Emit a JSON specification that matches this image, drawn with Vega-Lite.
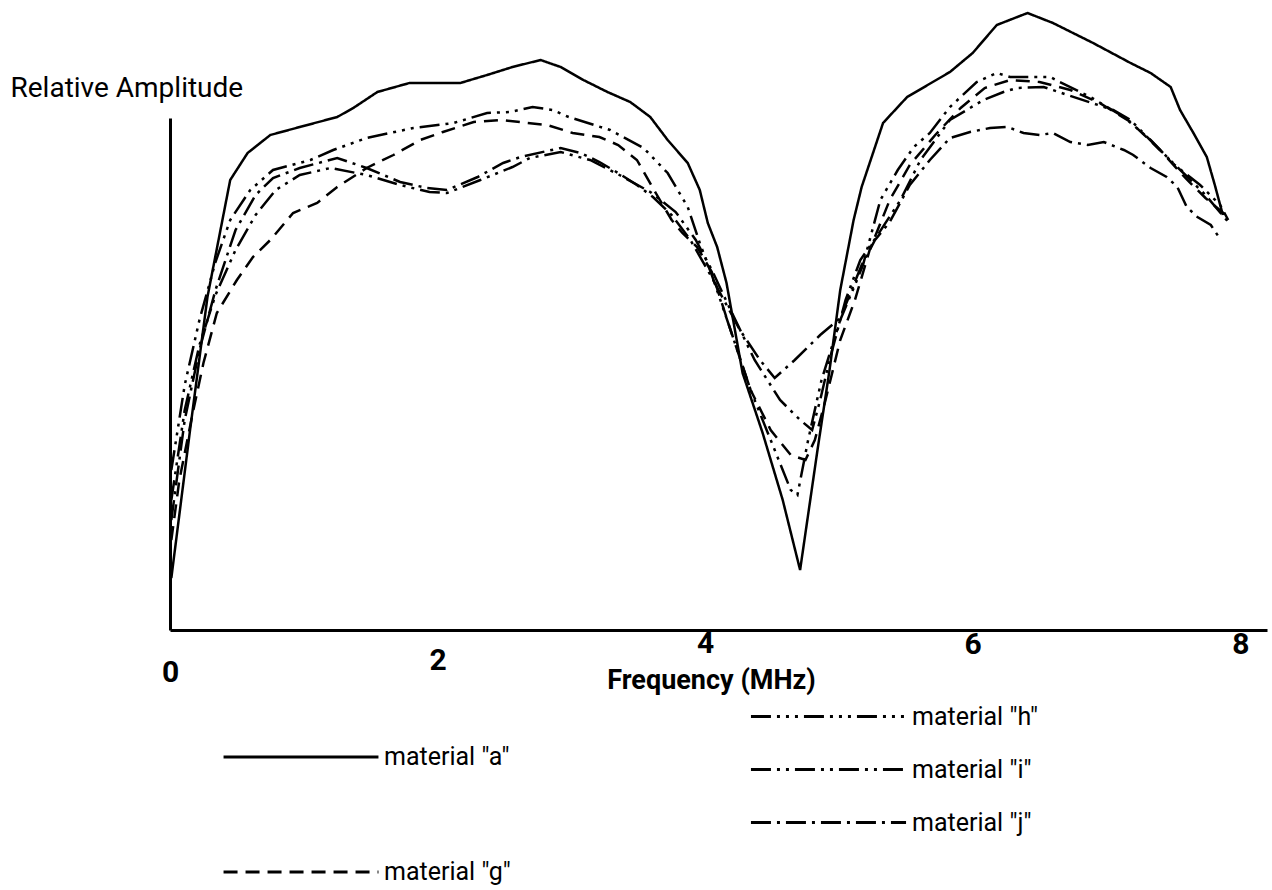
{
 "$schema": "https://vega.github.io/schema/vega-lite/v6.json",
 "width": 1097, "height": 512,
 "autosize": {"type": "none"},
 "padding": {"left": 170, "top": 118, "right": 5, "bottom": 260},
 "background": "white",
 "config": {"view": {"stroke": null}},
 "data": {"values": [
  {"material":"material \"a\"","f":0.01,"amp":52},{"material":"material \"a\"","f":0.15,"amp":200},{"material":"material \"a\"","f":0.28,"amp":333},{"material":"material \"a\"","f":0.45,"amp":450},{"material":"material \"a\"","f":0.58,"amp":477},{"material":"material \"a\"","f":0.75,"amp":495},{"material":"material \"a\"","f":0.97,"amp":503},{"material":"material \"a\"","f":1.25,"amp":513},{"material":"material \"a\"","f":1.37,"amp":522},{"material":"material \"a\"","f":1.55,"amp":538},{"material":"material \"a\"","f":1.79,"amp":547},{"material":"material \"a\"","f":2.17,"amp":547},{"material":"material \"a\"","f":2.37,"amp":555},{"material":"material \"a\"","f":2.56,"amp":563},{"material":"material \"a\"","f":2.77,"amp":570},{"material":"material \"a\"","f":2.92,"amp":563},{"material":"material \"a\"","f":3.09,"amp":550},{"material":"material \"a\"","f":3.27,"amp":538},{"material":"material \"a\"","f":3.44,"amp":528},{"material":"material \"a\"","f":3.59,"amp":513},{"material":"material \"a\"","f":3.72,"amp":490},{"material":"material \"a\"","f":3.87,"amp":467},{"material":"material \"a\"","f":3.96,"amp":440},{"material":"material \"a\"","f":4.02,"amp":407},{"material":"material \"a\"","f":4.09,"amp":383},{"material":"material \"a\"","f":4.16,"amp":347},{"material":"material \"a\"","f":4.28,"amp":257},{"material":"material \"a\"","f":4.43,"amp":197},{"material":"material \"a\"","f":4.58,"amp":130},{"material":"material \"a\"","f":4.71,"amp":60},{"material":"material \"a\"","f":4.84,"amp":180},{"material":"material \"a\"","f":4.93,"amp":260},{"material":"material \"a\"","f":5.01,"amp":340},{"material":"material \"a\"","f":5.11,"amp":410},{"material":"material \"a\"","f":5.17,"amp":443},{"material":"material \"a\"","f":5.33,"amp":507},{"material":"material \"a\"","f":5.51,"amp":533},{"material":"material \"a\"","f":5.83,"amp":558},{"material":"material \"a\"","f":6.0,"amp":577},{"material":"material \"a\"","f":6.18,"amp":605},{"material":"material \"a\"","f":6.41,"amp":617},{"material":"material \"a\"","f":6.6,"amp":607},{"material":"material \"a\"","f":6.9,"amp":587},{"material":"material \"a\"","f":7.18,"amp":567},{"material":"material \"a\"","f":7.33,"amp":557},{"material":"material \"a\"","f":7.48,"amp":543},{"material":"material \"a\"","f":7.55,"amp":520},{"material":"material \"a\"","f":7.65,"amp":497},{"material":"material \"a\"","f":7.75,"amp":473},{"material":"material \"a\"","f":7.81,"amp":445},{"material":"material \"a\"","f":7.87,"amp":415},

  {"material":"material \"g\"","f":0.01,"amp":90},{"material":"material \"g\"","f":0.07,"amp":150},{"material":"material \"g\"","f":0.17,"amp":217},{"material":"material \"g\"","f":0.25,"amp":267},{"material":"material \"g\"","f":0.35,"amp":317},{"material":"material \"g\"","f":0.5,"amp":350},{"material":"material \"g\"","f":0.62,"amp":373},{"material":"material \"g\"","f":0.75,"amp":390},{"material":"material \"g\"","f":0.92,"amp":417},{"material":"material \"g\"","f":1.1,"amp":427},{"material":"material \"g\"","f":1.25,"amp":443},{"material":"material \"g\"","f":1.47,"amp":462},{"material":"material \"g\"","f":1.67,"amp":475},{"material":"material \"g\"","f":1.87,"amp":490},{"material":"material \"g\"","f":2.04,"amp":498},{"material":"material \"g\"","f":2.27,"amp":508},{"material":"material \"g\"","f":2.47,"amp":510},{"material":"material \"g\"","f":2.82,"amp":505},{"material":"material \"g\"","f":3.01,"amp":497},{"material":"material \"g\"","f":3.21,"amp":493},{"material":"material \"g\"","f":3.35,"amp":485},{"material":"material \"g\"","f":3.49,"amp":470},{"material":"material \"g\"","f":3.64,"amp":435},{"material":"material \"g\"","f":3.75,"amp":410},{"material":"material \"g\"","f":3.83,"amp":397},{"material":"material \"g\"","f":3.94,"amp":383},{"material":"material \"g\"","f":4.05,"amp":358},{"material":"material \"g\"","f":4.19,"amp":300},{"material":"material \"g\"","f":4.34,"amp":240},{"material":"material \"g\"","f":4.49,"amp":200},{"material":"material \"g\"","f":4.64,"amp":175},{"material":"material \"g\"","f":4.75,"amp":170},{"material":"material \"g\"","f":4.82,"amp":190},{"material":"material \"g\"","f":4.9,"amp":230},{"material":"material \"g\"","f":5.01,"amp":290},{"material":"material \"g\"","f":5.12,"amp":330},{"material":"material \"g\"","f":5.23,"amp":380},{"material":"material \"g\"","f":5.38,"amp":430},{"material":"material \"g\"","f":5.53,"amp":465},{"material":"material \"g\"","f":5.72,"amp":495},{"material":"material \"g\"","f":5.91,"amp":522},{"material":"material \"g\"","f":6.09,"amp":542},{"material":"material \"g\"","f":6.28,"amp":550},{"material":"material \"g\"","f":6.5,"amp":548},{"material":"material \"g\"","f":6.73,"amp":540},{"material":"material \"g\"","f":6.95,"amp":527},{"material":"material \"g\"","f":7.18,"amp":508},{"material":"material \"g\"","f":7.4,"amp":480},{"material":"material \"g\"","f":7.59,"amp":452},{"material":"material \"g\"","f":7.74,"amp":432},{"material":"material \"g\"","f":7.89,"amp":415},

  {"material":"material \"h\"","f":0.01,"amp":160},{"material":"material \"h\"","f":0.11,"amp":245},{"material":"material \"h\"","f":0.22,"amp":310},{"material":"material \"h\"","f":0.34,"amp":368},{"material":"material \"h\"","f":0.45,"amp":410},{"material":"material \"h\"","f":0.6,"amp":440},{"material":"material \"h\"","f":0.77,"amp":460},{"material":"material \"h\"","f":1.05,"amp":470},{"material":"material \"h\"","f":1.22,"amp":480},{"material":"material \"h\"","f":1.47,"amp":492},{"material":"material \"h\"","f":1.82,"amp":502},{"material":"material \"h\"","f":2.12,"amp":507},{"material":"material \"h\"","f":2.37,"amp":517},{"material":"material \"h\"","f":2.54,"amp":518},{"material":"material \"h\"","f":2.71,"amp":523},{"material":"material \"h\"","f":2.86,"amp":520},{"material":"material \"h\"","f":2.98,"amp":513},{"material":"material \"h\"","f":3.29,"amp":500},{"material":"material \"h\"","f":3.54,"amp":482},{"material":"material \"h\"","f":3.72,"amp":457},{"material":"material \"h\"","f":3.87,"amp":423},{"material":"material \"h\"","f":3.96,"amp":387},{"material":"material \"h\"","f":4.05,"amp":355},{"material":"material \"h\"","f":4.19,"amp":300},{"material":"material \"h\"","f":4.34,"amp":240},{"material":"material \"h\"","f":4.49,"amp":190},{"material":"material \"h\"","f":4.64,"amp":140},{"material":"material \"h\"","f":4.69,"amp":135},{"material":"material \"h\"","f":4.77,"amp":190},{"material":"material \"h\"","f":4.87,"amp":250},{"material":"material \"h\"","f":5.01,"amp":310},{"material":"material \"h\"","f":5.12,"amp":345},{"material":"material \"h\"","f":5.18,"amp":365},{"material":"material \"h\"","f":5.31,"amp":430},{"material":"material \"h\"","f":5.44,"amp":460},{"material":"material \"h\"","f":5.56,"amp":483},{"material":"material \"h\"","f":5.68,"amp":497},{"material":"material \"h\"","f":5.83,"amp":523},{"material":"material \"h\"","f":6.03,"amp":548},{"material":"material \"h\"","f":6.18,"amp":557},{"material":"material \"h\"","f":6.28,"amp":553},{"material":"material \"h\"","f":6.58,"amp":553},{"material":"material \"h\"","f":6.65,"amp":548},{"material":"material \"h\"","f":6.88,"amp":533},{"material":"material \"h\"","f":7.13,"amp":513},{"material":"material \"h\"","f":7.33,"amp":490},{"material":"material \"h\"","f":7.51,"amp":465},{"material":"material \"h\"","f":7.7,"amp":445},{"material":"material \"h\"","f":7.85,"amp":425},{"material":"material \"h\"","f":7.91,"amp":410},

  {"material":"material \"i\"","f":0.01,"amp":130},{"material":"material \"i\"","f":0.11,"amp":220},{"material":"material \"i\"","f":0.22,"amp":285},{"material":"material \"i\"","f":0.34,"amp":335},{"material":"material \"i\"","f":0.49,"amp":380},{"material":"material \"i\"","f":0.64,"amp":415},{"material":"material \"i\"","f":0.79,"amp":440},{"material":"material \"i\"","f":0.97,"amp":455},{"material":"material \"i\"","f":1.2,"amp":462},{"material":"material \"i\"","f":1.47,"amp":455},{"material":"material \"i\"","f":1.72,"amp":445},{"material":"material \"i\"","f":1.94,"amp":438},{"material":"material \"i\"","f":2.07,"amp":437},{"material":"material \"i\"","f":2.32,"amp":450},{"material":"material \"i\"","f":2.56,"amp":463},{"material":"material \"i\"","f":2.69,"amp":472},{"material":"material \"i\"","f":2.92,"amp":478},{"material":"material \"i\"","f":3.14,"amp":470},{"material":"material \"i\"","f":3.36,"amp":455},{"material":"material \"i\"","f":3.59,"amp":438},{"material":"material \"i\"","f":3.78,"amp":418},{"material":"material \"i\"","f":3.93,"amp":390},{"material":"material \"i\"","f":4.05,"amp":360},{"material":"material \"i\"","f":4.19,"amp":320},{"material":"material \"i\"","f":4.37,"amp":270},{"material":"material \"i\"","f":4.56,"amp":230},{"material":"material \"i\"","f":4.71,"amp":210},{"material":"material \"i\"","f":4.8,"amp":200},{"material":"material \"i\"","f":4.86,"amp":230},{"material":"material \"i\"","f":4.93,"amp":270},{"material":"material \"i\"","f":5.05,"amp":330},{"material":"material \"i\"","f":5.16,"amp":370},{"material":"material \"i\"","f":5.29,"amp":395},{"material":"material \"i\"","f":5.46,"amp":430},{"material":"material \"i\"","f":5.61,"amp":470},{"material":"material \"i\"","f":5.83,"amp":510},{"material":"material \"i\"","f":5.98,"amp":522},{"material":"material \"i\"","f":6.08,"amp":530},{"material":"material \"i\"","f":6.23,"amp":538},{"material":"material \"i\"","f":6.33,"amp":542},{"material":"material \"i\"","f":6.53,"amp":543},{"material":"material \"i\"","f":6.71,"amp":535},{"material":"material \"i\"","f":7.05,"amp":520},{"material":"material \"i\"","f":7.18,"amp":510},{"material":"material \"i\"","f":7.4,"amp":480},{"material":"material \"i\"","f":7.59,"amp":455},{"material":"material \"i\"","f":7.74,"amp":435},{"material":"material \"i\"","f":7.91,"amp":408},

  {"material":"material \"j\"","f":0.01,"amp":110},{"material":"material \"j\"","f":0.11,"amp":210},{"material":"material \"j\"","f":0.22,"amp":280},{"material":"material \"j\"","f":0.34,"amp":340},{"material":"material \"j\"","f":0.49,"amp":400},{"material":"material \"j\"","f":0.64,"amp":435},{"material":"material \"j\"","f":0.77,"amp":452},{"material":"material \"j\"","f":0.97,"amp":462},{"material":"material \"j\"","f":1.25,"amp":472},{"material":"material \"j\"","f":1.47,"amp":462},{"material":"material \"j\"","f":1.72,"amp":448},{"material":"material \"j\"","f":1.92,"amp":442},{"material":"material \"j\"","f":2.07,"amp":440},{"material":"material \"j\"","f":2.3,"amp":453},{"material":"material \"j\"","f":2.49,"amp":467},{"material":"material \"j\"","f":2.62,"amp":473},{"material":"material \"j\"","f":2.92,"amp":482},{"material":"material \"j\"","f":3.07,"amp":477},{"material":"material \"j\"","f":3.21,"amp":468},{"material":"material \"j\"","f":3.35,"amp":457},{"material":"material \"j\"","f":3.49,"amp":445},{"material":"material \"j\"","f":3.61,"amp":433},{"material":"material \"j\"","f":3.75,"amp":415},{"material":"material \"j\"","f":3.89,"amp":390},{"material":"material \"j\"","f":4.04,"amp":355},{"material":"material \"j\"","f":4.26,"amp":300},{"material":"material \"j\"","f":4.41,"amp":270},{"material":"material \"j\"","f":4.52,"amp":252},{"material":"material \"j\"","f":4.67,"amp":270},{"material":"material \"j\"","f":4.86,"amp":295},{"material":"material \"j\"","f":5.01,"amp":312},{"material":"material \"j\"","f":5.08,"amp":335},{"material":"material \"j\"","f":5.17,"amp":365},{"material":"material \"j\"","f":5.27,"amp":390},{"material":"material \"j\"","f":5.38,"amp":408},{"material":"material \"j\"","f":5.53,"amp":445},{"material":"material \"j\"","f":5.68,"amp":470},{"material":"material \"j\"","f":5.83,"amp":492},{"material":"material \"j\"","f":5.98,"amp":498},{"material":"material \"j\"","f":6.13,"amp":502},{"material":"material \"j\"","f":6.26,"amp":503},{"material":"material \"j\"","f":6.38,"amp":497},{"material":"material \"j\"","f":6.5,"amp":495},{"material":"material \"j\"","f":6.6,"amp":497},{"material":"material \"j\"","f":6.73,"amp":488},{"material":"material \"j\"","f":6.86,"amp":485},{"material":"material \"j\"","f":6.98,"amp":488},{"material":"material \"j\"","f":7.13,"amp":480},{"material":"material \"j\"","f":7.2,"amp":475},{"material":"material \"j\"","f":7.33,"amp":462},{"material":"material \"j\"","f":7.45,"amp":453},{"material":"material \"j\"","f":7.53,"amp":443},{"material":"material \"j\"","f":7.6,"amp":423},{"material":"material \"j\"","f":7.68,"amp":413},{"material":"material \"j\"","f":7.78,"amp":405},{"material":"material \"j\"","f":7.84,"amp":393}
 ]},
 "encoding": {
  "x": {"field": "f", "type": "quantitative", "scale": {"domain": [0, 8.2], "nice": false, "zero": false},
   "axis": {"values": [0, 2, 4, 6, 8], "ticks": false, "grid": false, "domainColor": "black", "domainWidth": 3,
    "labelFont": "Roboto", "labelFontWeight": "bold", "labelFontSize": 30, "labelColor": "black",
    "labelBaseline": "middle", "labelFlush": false, "labelOverlap": false, "labelBound": false,
    "labelPadding": {"condition": [{"test": "datum.value === 0", "value": 42}, {"test": "datum.value === 2", "value": 30}, {"test": "datum.value === 4", "value": 13}], "value": 14},
    "title": "Frequency (MHz)", "titleFont": "Roboto", "titleFontSize": 27, "titleFontWeight": "bold", "titleColor": "black",
    "titleX": 541, "titleY": 50, "titleAlign": "center", "titleBaseline": "middle"}},
  "y": {"field": "amp", "type": "quantitative", "scale": {"domain": [0, 512], "nice": false},
   "axis": {"ticks": false, "labels": false, "grid": false, "domainColor": "black", "domainWidth": 3,
    "title": "Relative Amplitude", "titleAngle": 0, "titleX": -160, "titleY": -30, "titleAlign": "left", "titleBaseline": "middle",
    "titleFont": "Roboto", "titleFontSize": 28, "titleFontWeight": "normal", "titleColor": "black"}}
 },
 "layer": [
  {"transform": [{"filter": {"field": "material", "oneOf": ["material \"a\"", "material \"g\""]}}],
   "mark": {"type": "line", "color": "black", "strokeWidth": 2.5},
   "encoding": {"strokeDash": {"field": "material", "type": "nominal",
     "scale": {"domain": ["material \"a\"", "material \"g\""], "range": [[1, 0], [14, 8]]},
     "legend": {"orient": "none", "legendX": 52, "legendY": 560, "title": null, "symbolType": "stroke", "symbolSize": 24000,
      "symbolStrokeWidth": 3, "symbolStrokeColor": "black", "labelFont": "Roboto", "labelFontSize": 25,
      "labelColor": "black", "labelOffset": 4, "rowPadding": 23, "direction": "vertical"}}}},
  {"transform": [{"filter": {"field": "material", "oneOf": ["material \"h\"", "material \"i\"", "material \"j\""]}}],
   "mark": {"type": "line", "color": "black", "strokeWidth": 2.5},
   "encoding": {"strokeDash": {"field": "material", "type": "nominal",
     "scale": {"domain": ["material \"h\"", "material \"i\"", "material \"j\""], "range": [[20, 6, 3, 6, 3, 6, 3, 6], [20, 6, 3, 6, 3, 6], [20, 6, 3, 6]]},
     "legend": {"orient": "none", "legendX": 642, "legendY": 582, "title": null, "symbolType": "M-5.17,0H5.17", "symbolSize": 900,
      "symbolStrokeWidth": 3, "symbolStrokeColor": "black", "symbolFillColor": "transparent", "labelFont": "Roboto", "labelFontSize": 25,
      "labelColor": "black", "labelOffset": 67, "rowPadding": 23, "direction": "vertical"}}}}
 ],
 "resolve": {"scale": {"strokeDash": "independent"}, "legend": {"strokeDash": "independent"}}
}
